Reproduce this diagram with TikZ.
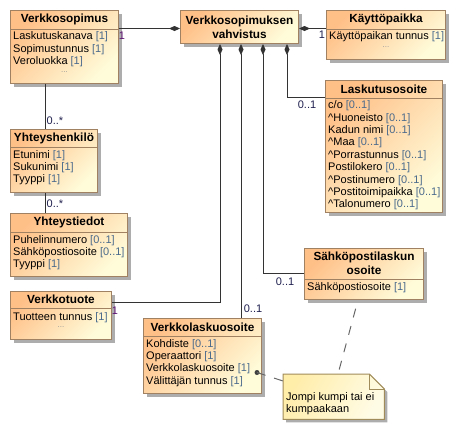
\documentclass[tikz,border=0pt]{standalone}
\usepackage{fontspec}
\setmainfont{Liberation Sans}
\usetikzlibrary{arrows.meta,shadows}

\definecolor{boxtop}{HTML}{FFC088}
\definecolor{boxbot}{HTML}{FFFCDA}
\definecolor{boxline}{HTML}{A08262}
\definecolor{multc}{HTML}{4A6A8C}
\definecolor{purp}{HTML}{5A1070}
\definecolor{mlabc}{HTML}{1E1E4E}
\definecolor{linec}{HTML}{333333}
\definecolor{notetop}{HTML}{FFEDAA}
\definecolor{notebot}{HTML}{FFFCE6}
\definecolor{noteline}{HTML}{A08C5A}

\newcommand{\mlt}[1]{\textcolor{multc}{[#1]}}
\newcommand{\attrfont}{\fontsize{11}{12.4}\selectfont}
\newcommand{\headfont}{\fontsize{11.8}{13.6}\selectfont\bfseries}

\tikzset{
  classbox/.style={rectangle, draw=boxline, line width=1pt, inner sep=0pt, anchor=north west,
    top color=boxtop, bottom color=boxbot, shading angle=45,
    general shadow={fill=black!32, shadow xshift=3pt, shadow yshift=-3pt}},
  head/.style={font=\headfont, align=center, inner sep=0pt},
  attrs/.style={font=\attrfont, align=left, anchor=north west, inner sep=0pt},
  dots/.style={font=\fontsize{8}{8}\selectfont, text=black!40, inner sep=0pt},
  sep/.style={draw=boxline, line width=1pt},
  comp/.style={draw=linec, line width=1pt, {Diamond[length=11pt,width=5pt]}-},
  link/.style={draw=linec, line width=1pt},
  mlab/.style={font=\attrfont, text=mlabc, inner sep=0pt},
  notelink/.style={draw=black!60, line width=1pt, dash pattern=on 9pt off 9pt},
}

\begin{document}
\begin{tikzpicture}[x=1pt, y=-1pt]
\useasboundingbox (0,0) rectangle (455,429);

\node[classbox, minimum width=108pt, minimum height=73pt] (sopimus) at (10,10) {};
\draw[sep] ([yshift=-19pt]sopimus.north west) -- ([yshift=-19pt]sopimus.north east);
\node[head] (sopimush) at ([yshift=-9.5pt]sopimus.north) {Verkkosopimus};
\node[attrs] (sopimusa) at ([xshift=3pt,yshift=-21.5pt]sopimus.north west)
  {Laskutuskanava \mlt{1}\\Sopimustunnus \mlt{1}\\Veroluokka \mlt{1}};
\node[dots] (sopimusd) at ([yshift=-62pt]sopimus.north) {...};

\node[classbox, minimum width=118pt, minimum height=33pt] (vahv) at (180,10) {};
\node[head] (vahvh) at (vahv.center) {Verkkosopimuksen\\vahvistus};

\node[classbox, minimum width=119pt, minimum height=49pt] (kaytto) at (326,10) {};
\draw[sep] ([yshift=-19pt]kaytto.north west) -- ([yshift=-19pt]kaytto.north east);
\node[head] (kayttoh) at ([yshift=-9.5pt]kaytto.north) {Käyttöpaikka};
\node[attrs] (kayttoa) at ([xshift=3pt,yshift=-21.5pt]kaytto.north west)
  {Käyttöpaikan tunnus \mlt{1}};
\node[dots] (kayttod) at ([yshift=-37pt]kaytto.north) {...};

\node[classbox, minimum width=117pt, minimum height=132pt] (losoite) at (325,80) {};
\draw[sep] ([yshift=-18pt]losoite.north west) -- ([yshift=-18pt]losoite.north east);
\node[head] (losoiteh) at ([yshift=-9pt]losoite.north) {Laskutusosoite};
\node[attrs] (losoitea) at ([xshift=3pt,yshift=-20.5pt]losoite.north west)
  {c/o \mlt{0..1}\\\textasciicircum Huoneisto \mlt{0..1}\\Kadun nimi \mlt{0..1}\\
   \textasciicircum Maa \mlt{0..1}\\\textasciicircum Porrastunnus \mlt{0..1}\\Postilokero \mlt{0..1}\\
   \textasciicircum Postinumero \mlt{0..1}\\\textasciicircum Postitoimipaikka \mlt{0..1}\\
   \textasciicircum Talonumero \mlt{0..1}};

\node[classbox, minimum width=87pt, minimum height=63pt] (hlo) at (10,129) {};
\draw[sep] ([yshift=-18pt]hlo.north west) -- ([yshift=-18pt]hlo.north east);
\node[head] (hloh) at ([yshift=-9pt]hlo.north) {Yhteyshenkilö};
\node[attrs] (hloa) at ([xshift=3pt,yshift=-21pt]hlo.north west)
  {Etunimi \mlt{1}\\Sukunimi \mlt{1}\\Tyyppi \mlt{1}};

\node[classbox, minimum width=117pt, minimum height=63pt] (tiedot) at (10,213) {};
\draw[sep] ([yshift=-19pt]tiedot.north west) -- ([yshift=-19pt]tiedot.north east);
\node[head] (tiedoth) at ([yshift=-9.5pt]tiedot.north) {Yhteystiedot};
\node[attrs] (tiedota) at ([xshift=3pt,yshift=-22pt]tiedot.north west)
  {Puhelinnumero \mlt{0..1}\\Sähköpostiosoite \mlt{0..1}\\Tyyppi \mlt{1}};

\node[classbox, minimum width=101pt, minimum height=48pt] (tuote) at (10,291) {};
\draw[sep] ([yshift=-17pt]tuote.north west) -- ([yshift=-17pt]tuote.north east);
\node[head] (tuoteh) at ([yshift=-8.5pt]tuote.north) {Verkkotuote};
\node[attrs] (tuotea) at ([xshift=3pt,yshift=-21pt]tuote.north west)
  {Tuotteen tunnus \mlt{1}};
\node[dots] (tuoted) at ([yshift=-36pt]tuote.north) {...};

\node[classbox, minimum width=118pt, minimum height=75pt] (vlos) at (143,318) {};
\draw[sep] ([yshift=-18pt]vlos.north west) -- ([yshift=-18pt]vlos.north east);
\node[head] (vlosh) at ([yshift=-9pt]vlos.north) {Verkkolaskuosoite};
\node[attrs] (vlosa) at ([xshift=3pt,yshift=-21pt]vlos.north west)
  {Kohdiste \mlt{0..1}\\Operaattori \mlt{1}\\Verkkolaskuosoite \mlt{1}\\Välittäjän tunnus \mlt{1}};

\node[classbox, minimum width=119pt, minimum height=51pt] (spos) at (304,248) {};
\draw[sep] ([yshift=-31pt]spos.north west) -- ([yshift=-31pt]spos.north east);
\node[head] (sposh) at ([yshift=-15.5pt]spos.north) {Sähköpostilaskun\\osoite};
\node[attrs] (sposa) at ([xshift=3pt,yshift=-34pt]spos.north west)
  {Sähköpostiosoite \mlt{1}};

\node[minimum width=101pt, minimum height=45pt, inner sep=0pt, anchor=north west] (note) at (283,374) {};
\fill[black!32] ([shift={(3pt,-3pt)}]note.north west) -- ([shift={(-12pt,-3pt)}]note.north east)
  -- ([shift={(3pt,-18pt)}]note.north east) -- ([shift={(3pt,-3pt)}]note.south east)
  -- ([shift={(3pt,-3pt)}]note.south west) -- cycle;
\draw[draw=noteline, line width=1pt, top color=notetop, bottom color=notebot, shading angle=60]
  (note.north west) -- ([xshift=-15pt]note.north east) -- ([yshift=-15pt]note.north east)
  -- (note.south east) -- (note.south west) -- cycle;
\draw[draw=noteline, line width=1pt] ([xshift=-15pt]note.north east) |- ([yshift=-15pt]note.north east);
\node[attrs] (notet) at ([xshift=3pt,yshift=-18pt]note.north west) {Jompi kumpi tai ei\\kumpaakaan};

\draw[comp] ([yshift=-1.5pt]vahv.west) -- ([yshift=-1.5pt]vahv.west -| sopimus.east);
\draw[comp] ([yshift=-1.5pt]vahv.east) -- ([yshift=-1.5pt]vahv.east -| kaytto.west);
\draw[comp] ([xshift=40pt]vahv.south west) |- ([yshift=-11pt]tuote.north east);
\draw[comp] ([xshift=61pt]vahv.south west) -- ([xshift=61pt]vahv.south west |- vlos.north);
\draw[comp] ([xshift=83pt]vahv.south west) |- ([yshift=-25pt]spos.north west);
\draw[comp] ([xshift=107pt]vahv.south west) |- ([yshift=-17pt]losoite.north west);
\draw[link] ([xshift=35pt]sopimus.south west) -- ([xshift=35pt]hlo.north west);
\draw[link] ([xshift=35pt]hlo.south west) -- ([xshift=35pt]tiedot.north west);

\coordinate (dot) at ([xshift=-5pt,yshift=-16.5pt]vlos.east);
\fill[black!75] (dot) circle (2.5pt);
\draw[notelink] (dot) -- ([yshift=-7pt]note.north west);
\draw[notelink, dash phase=9pt] ([xshift=54pt]spos.south west) -- ([xshift=55pt]note.north west);

\node[mlab, text=purp] (m1) at (122,36) {1};
\node[mlab] (m2) at (322,35) {1};
\node[mlab] (m3) at (307,105) {0..1};
\node[mlab] (m4) at (55,121) {0..*};
\node[mlab] (m5) at (55,204) {0..*};
\node[mlab, text=purp] (m6) at (115,311) {1};
\node[mlab] (m7) at (253,309) {0..1};
\node[mlab] (m8) at (285,282) {0..1};
\end{tikzpicture}
\end{document}
